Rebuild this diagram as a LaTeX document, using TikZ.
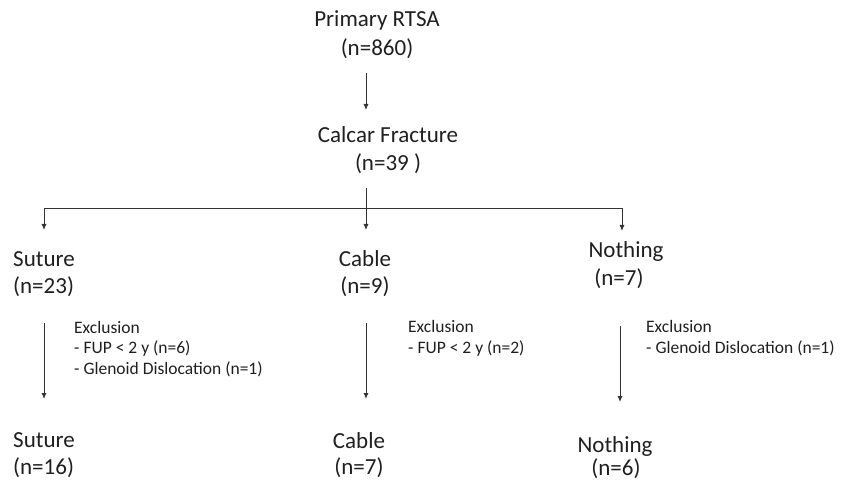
\documentclass[tikz,border=0pt]{standalone}
\usepackage{fontspec}
\setmainfont{Carlito}
\usetikzlibrary{arrows.meta}
\begin{document}
\begin{tikzpicture}[x=1pt,y=-1pt,
  main/.style={inner sep=0pt, font=\fontsize{23}{28}\selectfont, text=black!88},
  excl/.style={inner sep=0pt, anchor=base west, align=left, font=\fontsize{17.5}{20.5}\selectfont, text=black!88},
  conn/.style={line width=0.9pt, draw=black!80},
  arr/.style={conn, -{Latex[length=6pt,width=5pt]}}]
\useasboundingbox (0,0) rectangle (846,481);
% top
\node[main, anchor=base] (primary) at (377,27) {Primary RTSA};
\node[main, anchor=base] (primaryn) at (377,56) {(n=860)};
\node[main, anchor=base] (calcar) at (388,143) {Calcar Fracture};
\node[main, anchor=base] (calcarn) at (388,171) {(n=39 )};
% middle
\node[main, anchor=base west] (sut1) at (13,266) {Suture};
\node[main, anchor=base west] (sut1n) at (13,293) {(n=23)};
\node[main, anchor=base] (cab1) at (365,266) {Cable};
\node[main, anchor=base] (cab1n) at (365,293) {(n=9)};
\node[main, anchor=base] (not1) at (626,258) {Nothing};
\node[main, anchor=base] (not1n) at (619,285) {(n=7)};
% bottom
\node[main, anchor=base west] (sut2) at (13,447) {Suture};
\node[main, anchor=base west] (sut2n) at (13,474) {(n=16)};
\node[main, anchor=base] (cab2) at (359,448) {Cable};
\node[main, anchor=base] (cab2n) at (359,474) {(n=7)};
\node[main, anchor=base] (not2) at (615,452) {Nothing};
\node[main, anchor=base] (not2n) at (616,475) {(n=6)};
% exclusions (base anchor = baseline of last line)
\node[excl] (ex1) at (74,374) {Exclusion\\- FUP < 2 y (n=6)\\- Glenoid Dislocation (n=1)};
\node[excl] (ex2) at (408,353) {Exclusion\\- FUP < 2 y (n=2)};
\node[excl] (ex3) at (646,353) {Exclusion\\- Glenoid Dislocation (n=1)};
% connector points
\coordinate (a1) at (366,73);
\coordinate (a2) at (366,110);
\coordinate (b0) at (366,188);
\coordinate (bl) at (44,208);
\coordinate (bm) at (366,208);
\coordinate (br) at (622,208);
\coordinate (tl) at (44,230);
\coordinate (tm) at (366,230);
\coordinate (tr) at (622,231);
\coordinate (s1) at (44,323);
\coordinate (s2) at (44,399);
\coordinate (c1) at (366,323);
\coordinate (c2) at (366,399);
\coordinate (n1) at (620,326);
\coordinate (n2) at (620,402);
% connectors
\draw[arr] (a1) -- (a2);
\draw[arr] (b0) -- (tm);
\draw[conn] (bl) -- (br);
\draw[arr] (bl) -- (tl);
\draw[arr] (br) -- (tr);
\draw[arr] (s1) -- (s2);
\draw[arr] (c1) -- (c2);
\draw[arr] (n1) -- (n2);
\end{tikzpicture}
\end{document}
